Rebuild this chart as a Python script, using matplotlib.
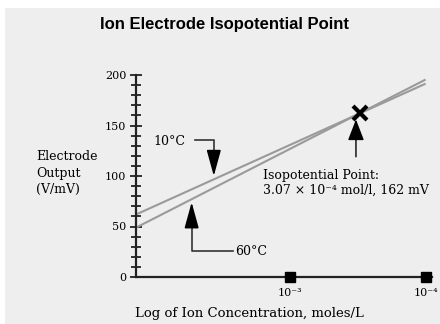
import matplotlib.pyplot as plt
from matplotlib.patches import Rectangle
from matplotlib.ticker import MultipleLocator, FixedLocator, FixedFormatter

plt.rcParams['font.family'] = ['DejaVu Serif']

# electrode response lines, read at the two ends of the axis (moles/L, mV)
conc_ends = [10 ** -1.87, 10 ** -3.99]
mv_10c = [62, 191]
mv_60c = [49, 195]

# isopotential point
iso_conc = 3.07e-4
iso_mv = 162

decade_ticks = [1e-3, 1e-4]
decade_labels = ['10⁻³', '10⁻⁴']

fig = plt.figure(figsize=(4.4, 3.24), dpi=100)
fig.patches.append(Rectangle((5 / 440, 0), 1, 1 - 8 / 324, transform=fig.transFigure,
                             facecolor='#eeeeee', edgecolor='none', zorder=-5))

ax = fig.add_axes([136 / 440, 1 - 277 / 324, 296 / 440, 202 / 324])
ax.set_facecolor('none')
ax.set_xscale('log')
ax.set_xlim(10 ** -1.868, 10 ** -4.044)
ax.set_ylim(0, 200)

ax.plot(conc_ends, mv_10c, color='#9a9a9a', lw=1.5, zorder=2)
ax.plot(conc_ends, mv_60c, color='#9a9a9a', lw=1.5, zorder=2)
ax.plot([iso_conc], [iso_mv], marker='x', color='black', ms=9.5, mew=3, zorder=4)

# axes
for s in ['top', 'right']:
    ax.spines[s].set_visible(False)
for s in ['left', 'bottom']:
    ax.spines[s].set_color('#222222')
    ax.spines[s].set_linewidth(1.6)

ax.yaxis.set_major_locator(MultipleLocator(50))
ax.yaxis.set_minor_locator(MultipleLocator(10))
ax.tick_params(axis='y', which='major', direction='inout', length=8, width=1.3,
               color='#222222', labelsize=8, pad=3)
ax.tick_params(axis='y', which='minor', direction='inout', length=7, width=1.3,
               color='#222222')

ax.xaxis.set_major_locator(FixedLocator(decade_ticks))
ax.xaxis.set_major_formatter(FixedFormatter(decade_labels))
ax.xaxis.set_minor_locator(FixedLocator([]))
ax.tick_params(axis='x', which='major', length=0, labelsize=8, pad=8)
ax.plot(decade_ticks, [0, 0], ls='none', marker='s', color='black', ms=7,
        clip_on=False, zorder=5)

head = '-|>,head_length=0.8,head_width=0.22'

# 10°C callout
ax.text(10 ** -1.995, 134, '10°C', fontsize=9, va='center', ha='left')
ax.plot([10 ** -2.30, 10 ** -2.44, 10 ** -2.44], [136, 136, 118],
        color='#333333', lw=1.2)
ax.annotate('', xy=(10 ** -2.44, 100), xytext=(10 ** -2.44, 122),
            arrowprops=dict(arrowstyle=head, color='black', lw=1.2,
                            mutation_scale=20, shrinkA=0, shrinkB=0))

# 60°C callout
ax.text(10 ** -2.596, 25.5, '60°C', fontsize=9, va='center', ha='left')
ax.plot([10 ** -2.58, 10 ** -2.277, 10 ** -2.277], [25.5, 25.5, 52],
        color='#333333', lw=1.2)
ax.annotate('', xy=(10 ** -2.277, 74), xytext=(10 ** -2.277, 50),
            arrowprops=dict(arrowstyle=head, color='black', lw=1.2,
                            mutation_scale=20, shrinkA=0, shrinkB=0))

# isopotential callout
ax.annotate('', xy=(10 ** -3.485, 156), xytext=(10 ** -3.485, 119),
            arrowprops=dict(arrowstyle='-|>,head_length=0.65,head_width=0.25',
                            color='black', lw=1.0, mutation_scale=20,
                            shrinkA=0, shrinkB=0))
ax.text(10 ** -2.80, 100, 'Isopotential Point:', fontsize=9, va='center', ha='left')
ax.text(10 ** -2.80, 86, '3.07 × 10⁻⁴ mol/l, 162 mV', fontsize=9,
        va='center', ha='left')

fig.text(224 / 440, 1 - 25 / 324, 'Ion Electrode Isopotential Point',
         fontsize=12, fontweight='bold', ha='center', va='center',
         family=['Liberation Sans', 'DejaVu Sans'])
fig.text(36 / 440, 1 - 173 / 324, 'Electrode\nOutput\n(V/mV)', fontsize=9,
         ha='left', va='center', linespacing=1.3)
fig.text(249 / 440, 1 - 313 / 324, 'Log of Ion Concentration, moles/L',
         fontsize=9.5, ha='center', va='center')

fig.savefig('out.png', dpi=100)
